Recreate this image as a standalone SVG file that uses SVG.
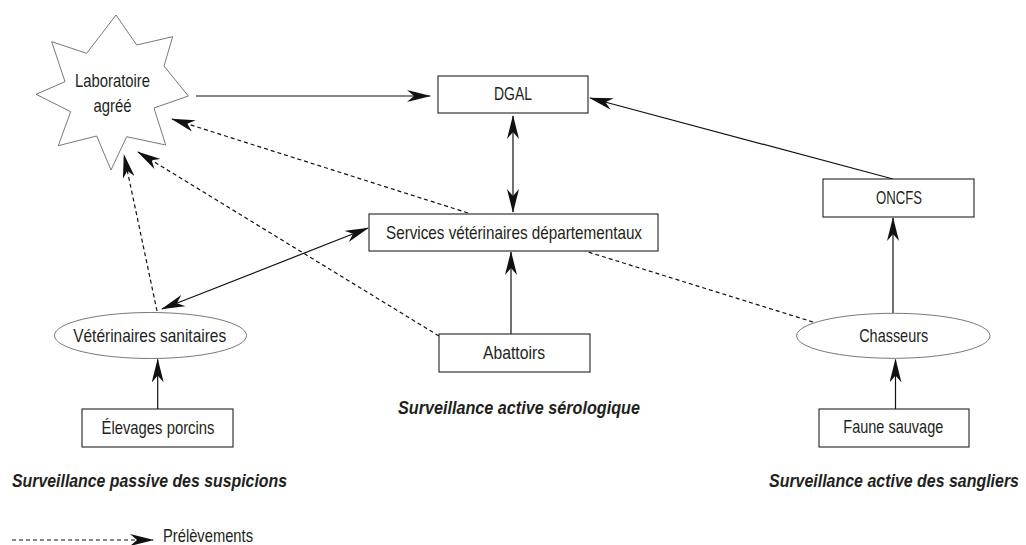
<svg xmlns="http://www.w3.org/2000/svg" width="1026" height="545" viewBox="0 0 1026 545">
<style>
.box{fill:#fff;stroke:#231f20;stroke-width:1.1}
.ell{fill:#fff;stroke:#555;stroke-width:0.8}
.star{fill:#fff;stroke:#555;stroke-width:0.8}
.lbl{font-family:"Liberation Sans",Arial,sans-serif;font-size:18.5px;fill:#231f20;text-anchor:middle}
.ttl{font-family:"Liberation Sans",Arial,sans-serif;font-size:17.5px;font-weight:bold;font-style:italic;fill:#231f20}
.sol{stroke:#111;stroke-width:1.2;fill:none}
.dsh{stroke:#111;stroke-width:1.2;fill:none;stroke-dasharray:4 3}
</style>
<defs>
<marker id="ah" viewBox="0 0 24 12" refX="23" refY="6" markerWidth="24" markerHeight="12" markerUnits="userSpaceOnUse" orient="auto-start-reverse">
<path d="M0,0 L24,6 L0,12 L7,6 Z" fill="#111"/>
</marker>
</defs>
<rect width="1026" height="545" fill="#fff"/>
<g id="connectors">
<line class="sol" x1="196" y1="96" x2="430" y2="96" marker-end="url(#ah)"/>
<line class="sol" x1="513" y1="116" x2="513" y2="212" marker-start="url(#ah)" marker-end="url(#ah)"/>
<line class="sol" x1="893" y1="179" x2="590" y2="98" marker-end="url(#ah)"/>
<line class="sol" x1="893" y1="313" x2="893" y2="218" marker-end="url(#ah)"/>
<line class="sol" x1="895.5" y1="409" x2="895.5" y2="359.5" marker-end="url(#ah)"/>
<line class="sol" x1="511" y1="334" x2="511" y2="252" marker-end="url(#ah)"/>
<line class="sol" x1="157.7" y1="409" x2="157.7" y2="359.5" marker-end="url(#ah)"/>
<line class="sol" x1="162" y1="309" x2="368" y2="228" marker-start="url(#ah)" marker-end="url(#ah)"/>
<line class="dsh" x1="157" y1="311" x2="124" y2="155" marker-end="url(#ah)"/>
<line class="dsh" x1="439" y1="336" x2="138" y2="152" marker-end="url(#ah)"/>
<line class="dsh" x1="468" y1="213" x2="172" y2="119" marker-end="url(#ah)"/>
<line class="dsh" x1="813" y1="322" x2="585" y2="251"/>
</g>
<g id="laboratoire">
<polygon class="star" points="116,15 136.7,45 172.7,36.7 164,66 188.3,96 154,108 165.7,145 126.7,136.7 111,170 96.7,136 58.3,145.7 70.7,111.7 36,94.3 65,81.7 51.7,41.7 86.7,53.3"/>
<text class="lbl" x="112.5" y="87" textLength="75" lengthAdjust="spacingAndGlyphs">Laboratoire</text>
<text class="lbl" x="112.5" y="111.5" textLength="38" lengthAdjust="spacingAndGlyphs">agréé</text>
</g>
<g id="dgal">
<rect class="box" x="438" y="76" width="150" height="37"/>
<text class="lbl" x="513" y="100" textLength="38" lengthAdjust="spacingAndGlyphs">DGAL</text>
</g>
<g id="services">
<rect class="box" x="369" y="214" width="289" height="37"/>
<text class="lbl" x="514" y="239" textLength="256" lengthAdjust="spacingAndGlyphs">Services vétérinaires départementaux</text>
</g>
<g id="oncfs">
<rect class="box" x="823" y="179" width="151" height="38"/>
<text class="lbl" x="899" y="204" textLength="46" lengthAdjust="spacingAndGlyphs">ONCFS</text>
</g>
<g id="veterinaires">
<ellipse class="ell" cx="150.5" cy="335.5" rx="96" ry="23"/>
<text class="lbl" x="149.7" y="342" textLength="153" lengthAdjust="spacingAndGlyphs">Vétérinaires sanitaires</text>
</g>
<g id="chasseurs">
<ellipse class="ell" cx="893.3" cy="335.8" rx="96.7" ry="22.5"/>
<text class="lbl" x="893.7" y="342" textLength="69" lengthAdjust="spacingAndGlyphs">Chasseurs</text>
</g>
<g id="abattoirs">
<rect class="box" x="439" y="334" width="151" height="38"/>
<text class="lbl" x="514" y="359" textLength="62" lengthAdjust="spacingAndGlyphs">Abattoirs</text>
</g>
<g id="elevages">
<rect class="box" x="82" y="409" width="151" height="38"/>
<text class="lbl" x="158" y="434" textLength="113" lengthAdjust="spacingAndGlyphs">Élevages porcins</text>
</g>
<g id="faune">
<rect class="box" x="819" y="409" width="150" height="38"/>
<text class="lbl" x="893.3" y="433" textLength="100" lengthAdjust="spacingAndGlyphs">Faune sauvage</text>
</g>
<g id="titles">
<text class="ttl" x="12" y="487" textLength="275" lengthAdjust="spacingAndGlyphs">Surveillance passive des suspicions</text>
<text class="ttl" x="398" y="414" textLength="242" lengthAdjust="spacingAndGlyphs">Surveillance active sérologique</text>
<text class="ttl" x="1019" y="487" text-anchor="end" textLength="250" lengthAdjust="spacingAndGlyphs">Surveillance active des sangliers</text>
</g>
<g id="legend">
<line class="dsh" x1="12" y1="540" x2="153" y2="540" marker-end="url(#ah)"/>
<text class="lbl" x="208" y="541.5" textLength="90" lengthAdjust="spacingAndGlyphs">Prélèvements</text>
</g>
</svg>
